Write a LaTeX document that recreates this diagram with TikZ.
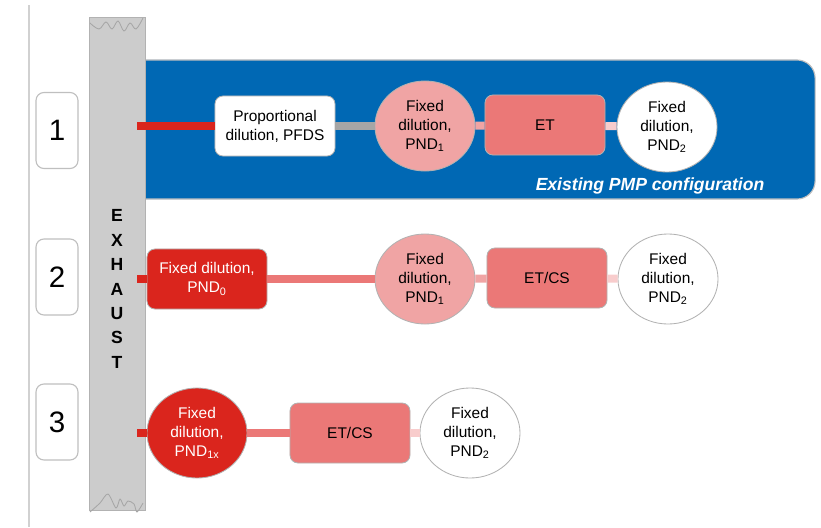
\documentclass[tikz,border=0pt]{standalone}
\usepackage{fontspec}
\setmainfont{Liberation Sans}
\usetikzlibrary{calc, shapes.geometric}

\definecolor{pmpblue}{RGB}{0,104,180}
\definecolor{exred}{RGB}{218,37,29}
\definecolor{etsalmon}{RGB}{235,120,119}
\definecolor{pndpink}{RGB}{240,164,164}
\definecolor{lightpink}{RGB}{248,204,204}
\definecolor{pipegray}{RGB}{204,204,204}
\definecolor{linkgray}{RGB}{166,166,166}

\begin{document}
\begin{tikzpicture}[x=0.025cm, y=-0.025cm]

    % --- Estilos de los elementos ---
    \tikzset{
        box/.style={draw=black!30, line width=0.6pt, rounded corners=0.2cm,
            minimum width=3cm, minimum height=1.5cm, inner sep=2pt,
            align=center, font=\fontsize{11}{13.5}\selectfont},
        bubble/.style={draw=black!30, line width=0.6pt, ellipse,
            minimum width=2.5cm, minimum height=2.25cm, inner sep=0pt,
            align=center, font=\fontsize{11}{13.5}\selectfont},
        numbox/.style={draw=black!25, line width=0.8pt, fill=white, rounded corners=0.2cm,
            minimum width=1.05cm, minimum height=1.9cm, font=\fontsize{21}{24}\selectfont},
        pipe/.style={line width=0.2cm},
    }

    \useasboundingbox (0,0) rectangle (821,527);

    % =========================================================================
    % FONDO: línea izquierda, números y panel PMP
    % =========================================================================
    \draw[black!18, line width=1.2pt] (29,5) -- (29,527);

    \node[numbox] (num1) at (57,130.5) {1};
    \node[numbox] (num2) at (57,277) {2};
    \node[numbox] (num3) at (57,422) {3};

    % Panel azul (las esquinas izquierdas quedan bajo el escape)
    \node[fill=pmpblue, draw=black!25, line width=0.8pt, rounded corners=0.45cm,
        minimum width=17.25cm, minimum height=3.475cm, inner sep=0pt] (pmp) at (470,129.5) {};
    \node[white, font=\fontsize{12.5}{15}\selectfont\bfseries\itshape] (pmplabel) at (650,186)
        {Existing PMP configuration};

    % =========================================================================
    % ESCAPE (tubo vertical)
    % =========================================================================
    \node[fill=pipegray, draw=black!30, line width=0.6pt, minimum width=1.4cm,
        minimum height=12.325cm, inner sep=0pt] (exhaust) at (117,263.5) {};
    \node[align=center, font=\fontsize{12.5}{17.4}\selectfont\bfseries] (exhaustlabel) at (117,289)
        {E\\X\\H\\A\\U\\S\\T};

    % Bordes rotos del tubo
    \draw[black!35, line width=0.6pt] plot[smooth, tension=0.6] coordinates
        {(90,23) (99,29) (106,22) (112,29) (118,21) (124,31) (130,23) (136,29) (143,18)};
    \draw[black!35, line width=0.6pt] plot[smooth, tension=0.5] coordinates
        {(90,512) (100,503) (108,494) (116,508) (120,499) (124,506) (128,501) (134,504) (137,512) (143,503)};

    % =========================================================================
    % FILA 1: configuración PMP existente
    % =========================================================================
    \node[box, fill=white] (pfds) at (275,126) {Proportional\\dilution, PFDS};
    \node[bubble, fill=pndpink] (pnda) at (425,126) {Fixed\\dilution,\\PND\textsubscript{1}};
    \node[box, fill=etsalmon] (eta) at (545,125) {ET};
    \node[bubble, fill=white] (pndb) at (667,127) {Fixed\\dilution,\\PND\textsubscript{2}};

    \coordinate (tap1) at ($(exhaust.east |- pfds)+(-8,0)$);
    \draw[pipe, exred] (tap1) -- (pfds);
    \draw[pipe, linkgray] (pfds) -- (pnda);
    \draw[pipe, pndpink] (pnda) -- (eta);
    \draw[pipe, lightpink] (eta) -- (pndb);

    % =========================================================================
    % FILA 2: dilución fija PND0
    % =========================================================================
    \node[box, fill=exred, text=white] (pndz) at (207,279) {Fixed dilution,\\PND\textsubscript{0}};
    \node[bubble, fill=pndpink] (pndc) at (425,279) {Fixed\\dilution,\\PND\textsubscript{1}};
    \node[box, fill=etsalmon] (etb) at (547,278) {ET/CS};
    \node[bubble, fill=white] (pndd) at (668,279) {Fixed\\dilution,\\PND\textsubscript{2}};

    \coordinate (tap2) at ($(exhaust.east |- pndz)+(-8,0)$);
    \draw[pipe, exred] (tap2) -- (pndz);
    \draw[pipe, etsalmon] (pndz) -- (pndc);
    \draw[pipe, pndpink] (pndc) -- (etb);
    \draw[pipe, lightpink] (etb) -- (pndd);

    % =========================================================================
    % FILA 3: dilución fija PND1x
    % =========================================================================
    \node[bubble, fill=exred, text=white] (pndx) at (197,433) {Fixed\\dilution,\\PND\textsubscript{1x}};
    \node[box, fill=etsalmon] (etc) at (350,433) {ET/CS};
    \node[bubble, fill=white] (pnde) at (470,433) {Fixed\\dilution,\\PND\textsubscript{2}};

    \coordinate (tap3) at ($(exhaust.east |- pndx)+(-8,0)$);
    \draw[pipe, exred] (tap3) -- (pndx);
    \draw[pipe, etsalmon] (pndx) -- (etc);
    \draw[pipe, lightpink] (etc) -- (pnde);

\end{tikzpicture}
\end{document}
